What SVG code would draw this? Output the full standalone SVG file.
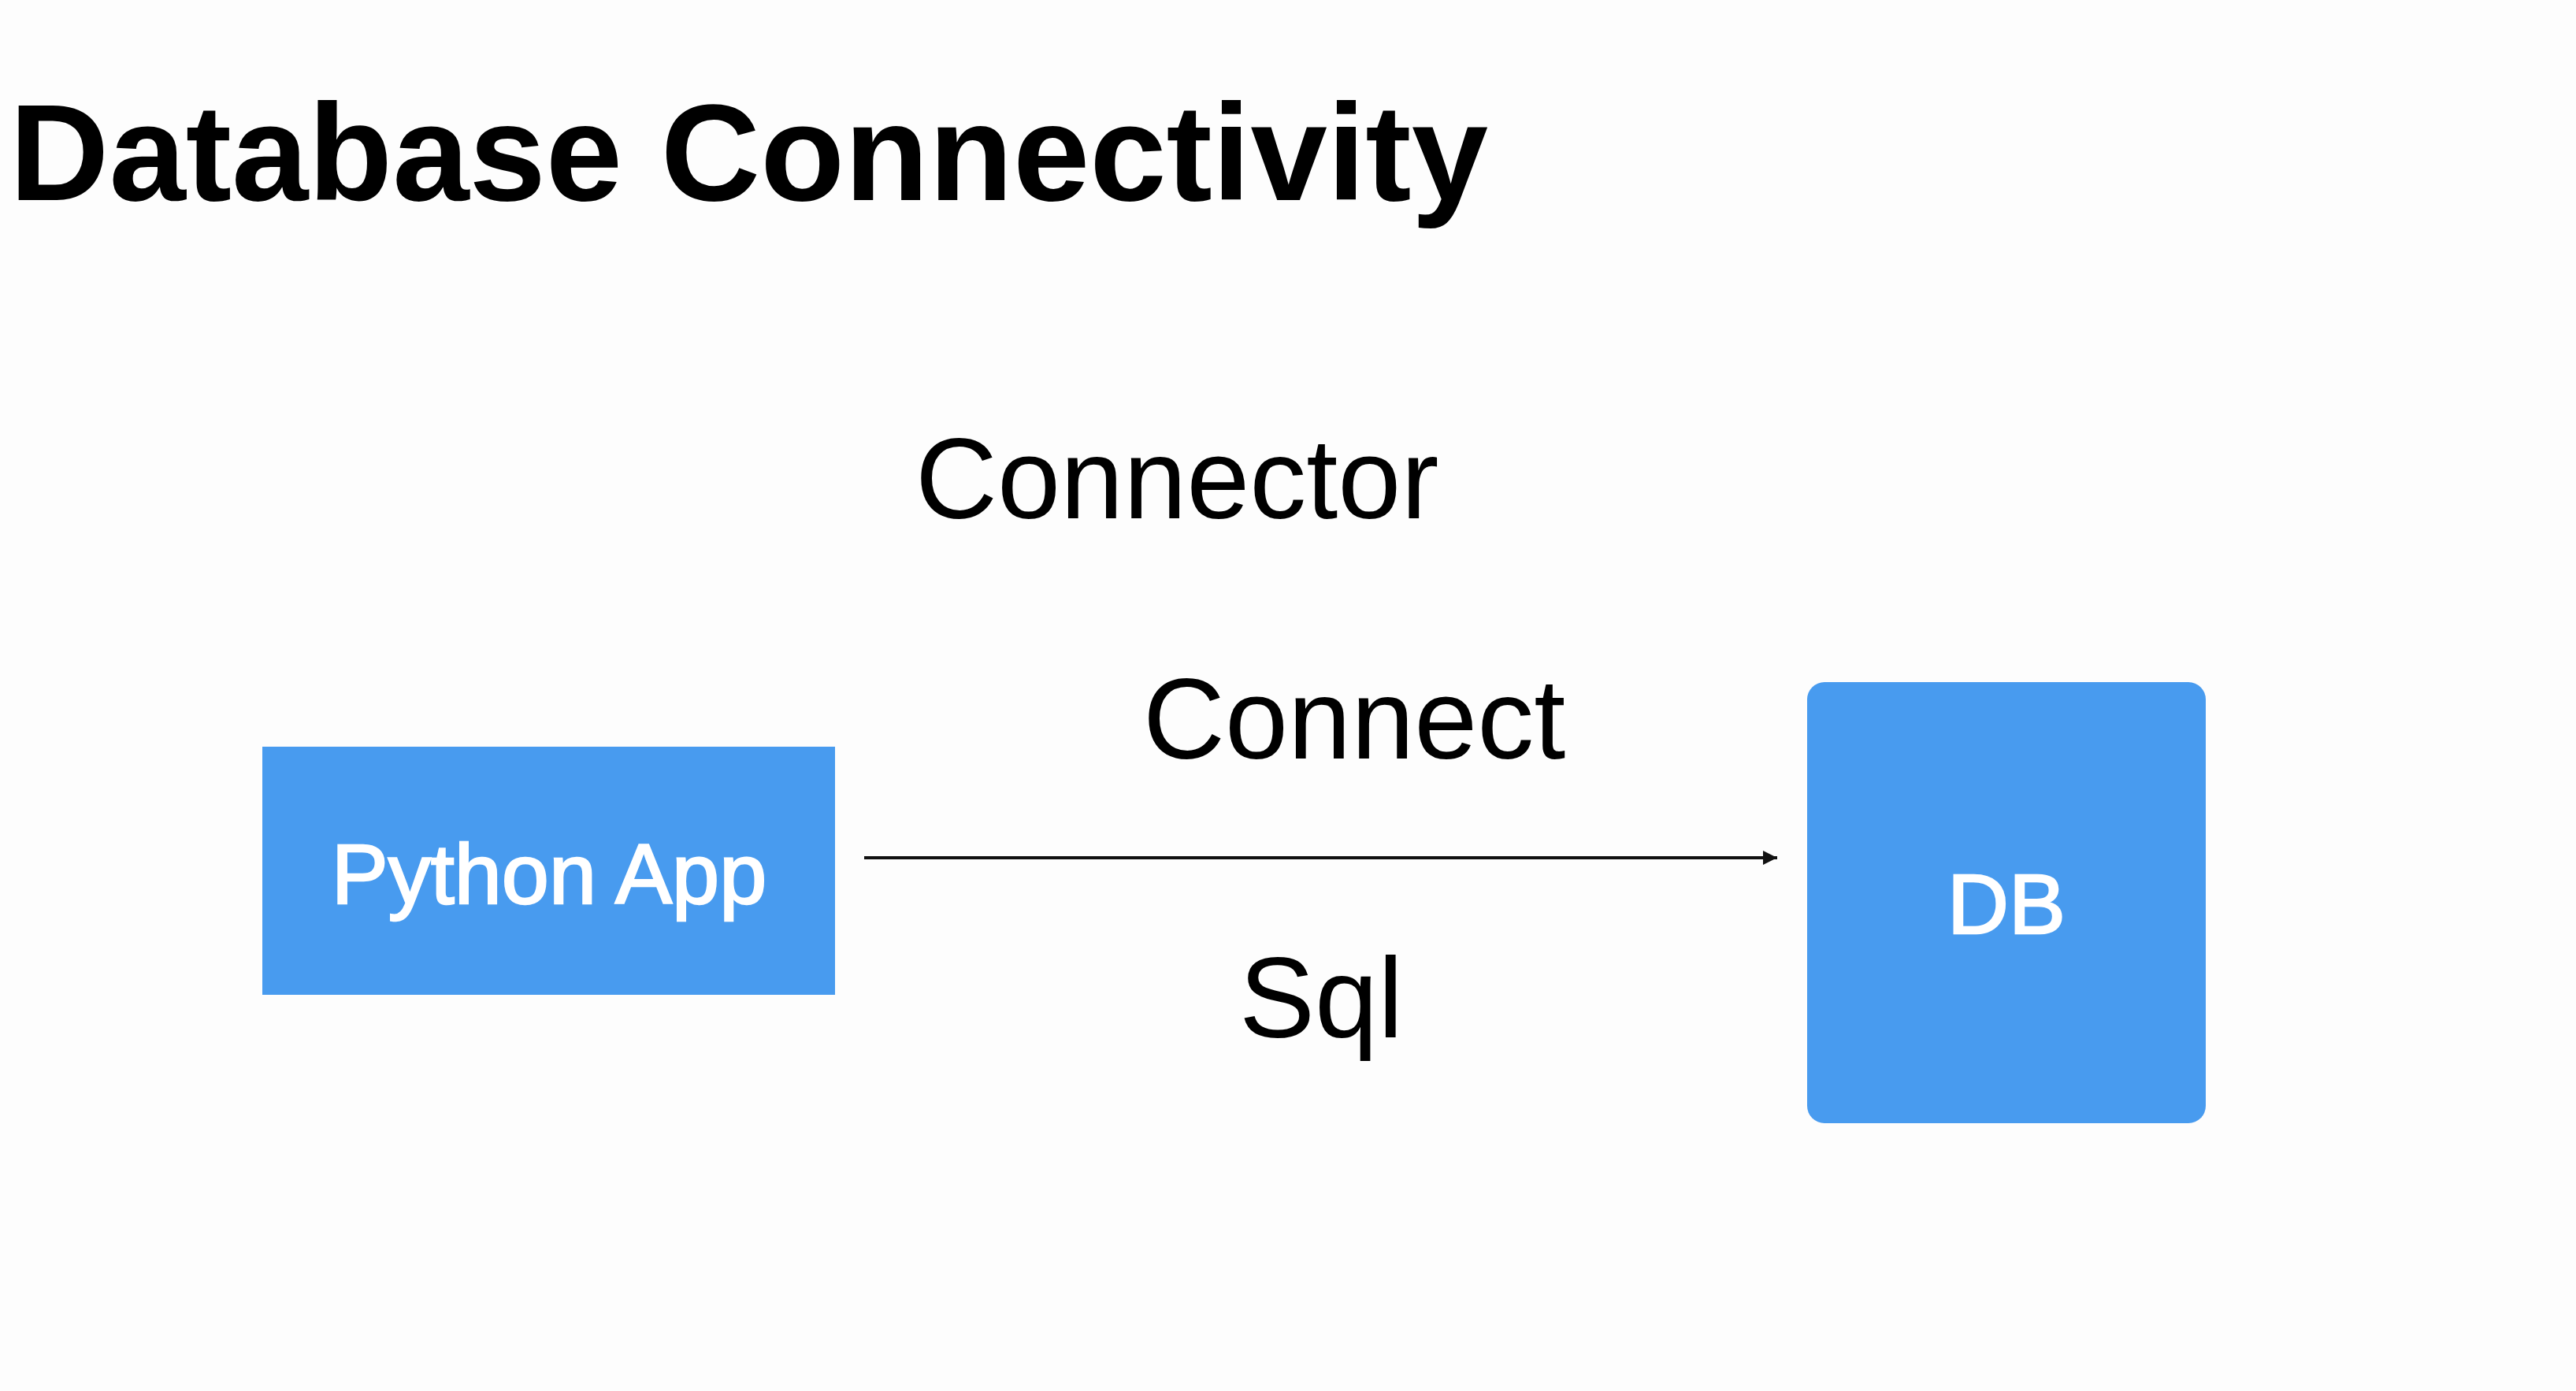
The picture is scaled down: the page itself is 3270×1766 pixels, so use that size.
<svg xmlns="http://www.w3.org/2000/svg" width="3270" height="1766" viewBox="0 0 3270 1766">
  <defs>
    <style>
      .title { font-family: "Liberation Sans", Arial, sans-serif; font-weight: bold; font-size: 175px; fill: #000; }
      .label { font-family: "Liberation Sans", Arial, sans-serif; font-size: 144px; fill: #000; }
      .box { fill: #489BEF; }
      .boxtext { font-family: "Liberation Sans", Arial, sans-serif; font-size: 108px; fill: #fff; stroke: #fff; stroke-width: 2.5; text-anchor: middle; }
      .conn { stroke: #111; stroke-width: 4; fill: none; }
    </style>
    <marker id="arrow" markerWidth="18" markerHeight="18" refX="18" refY="9" orient="auto" markerUnits="userSpaceOnUse">
      <path d="M0,0 L18,9 L0,18 Z" fill="#111"/>
    </marker>
  </defs>
  <rect x="0" y="0" width="3270" height="1766" fill="#fdfdfd"/>
  <text class="title" x="12" y="254">Database Connectivity</text>

  <g id="python-app">
    <rect class="box" x="333" y="948" width="727" height="315"/>
    <text class="boxtext" x="697" y="1147">Python App</text>
  </g>

  <g id="db">
    <rect class="box" x="2294" y="866" width="506" height="560" rx="22" ry="22"/>
    <text class="boxtext" x="2547" y="1185">DB</text>
  </g>

  <g id="connectors">
    <line class="conn" x1="1097" y1="1089" x2="2256" y2="1089" marker-end="url(#arrow)"/>
  </g>

  <g id="labels">
    <text class="label" x="1162" y="658">Connector</text>
    <text class="label" x="1451" y="963">Connect</text>
    <text class="label" x="1573" y="1317">Sql</text>
  </g>
</svg>
